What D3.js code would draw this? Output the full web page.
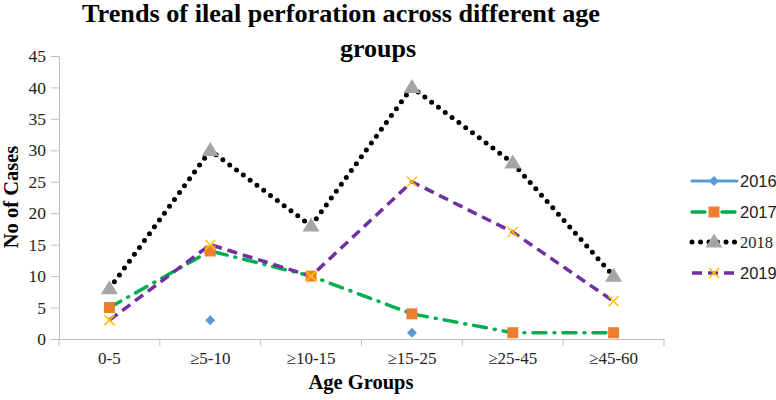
<!DOCTYPE html>
<html><head><meta charset="utf-8">
<script src="https://cdn.jsdelivr.net/npm/d3@7"></script>
<style>body{margin:0;background:#fff}svg{display:block}</style>
</head><body>
<svg id="c" width="776" height="400"></svg>
<script>
const categories = ["0-5","\u22655-10","\u226510-15","\u226515-25","\u226525-45","\u226545-60"];
const s2016 = [null, 3, null, 1, null, null];
const s2017 = [5, 14, 10, 4, 1, 1];
const s2018 = [8, 30, 18, 40, 28, 10];
const s2019 = [3, 15, 10, 25, 17, 6];
const yTicks = [0,5,10,15,20,25,30,35,40,45];
const seriesNames = ["2016","2017","2018","2019"];

const SERIF = "'Liberation Serif','Times New Roman',serif";
const SANS = "'Liberation Sans',Arial,sans-serif";

const svg = d3.select("#c");
const x = d3.scaleBand().domain(categories).range([59, 664]);
const y = d3.scaleLinear().domain([0,45]).range([339, 56]);
const cx = d => x(d) + x.bandwidth()/2;

// axes
const ya = svg.append("g").attr("transform","translate(59,0)")
  .call(d3.axisLeft(y).tickValues(yTicks).tickSize(8).tickSizeOuter(0));
ya.attr("font-family",SERIF);
ya.select(".domain").attr("stroke","#BFBFBF");
ya.selectAll(".tick line").attr("stroke","#BFBFBF");
ya.selectAll(".tick text").style("font-family",SERIF).style("font-size","17.5px").attr("fill","#222").attr("x",-13);

const xa = svg.append("g").attr("transform","translate(0,339)")
  .call(d3.axisBottom(x).tickSize(0).tickSizeOuter(0));
xa.attr("font-family",SERIF);
xa.select(".domain").attr("stroke","#BFBFBF");
xa.selectAll(".tick text").style("font-family",SERIF).style("font-size","17px").attr("fill","#222").attr("y",25).attr("dy",0);
const bounds = categories.map(c => x(c)).concat([x.range()[1]]);
svg.append("g").selectAll("line").data(bounds).join("line")
  .attr("x1",d=>d).attr("x2",d=>d).attr("y1",339).attr("y2",346).attr("stroke","#BFBFBF");

// titles
svg.append("text").attr("x",82).attr("y",22).attr("text-anchor","start")
  .attr("textLength",518).attr("lengthAdjust","spacingAndGlyphs")
  .style("font-family",SERIF).attr("font-weight","bold").style("font-size","26px")
  .text("Trends of ileal perforation across different age");
svg.append("text").attr("x",340).attr("y",57).attr("text-anchor","start")
  .style("font-family",SERIF).attr("font-weight","bold").style("font-size","26px")
  .text("groups");
svg.append("text").attr("transform","translate(18,197) rotate(-90)").attr("text-anchor","middle")
  .style("font-family",SERIF).attr("font-weight","bold").style("font-size","20.5px")
  .text("No of Cases");
svg.append("text").attr("x",361).attr("y",389).attr("text-anchor","middle")
  .style("font-family",SERIF).attr("font-weight","bold").style("font-size","20.5px")
  .text("Age Groups");

const line = d3.line().defined(d=>d.v!=null).x(d=>cx(d.c)).y(d=>y(d.v));
const toPts = arr => arr.map((v,i)=>({c:categories[i], v}));

const styles = {
  "2016": {color:"#5B9BD5", width:3, dash:null, cap:"round"},
  "2017": {color:"#00B050", width:3.5, dash:"13,8,1,8", cap:"round"},
  "2018": {color:"#000000", width:5, dash:"0,8.5", cap:"round"},
  "2019": {color:"#7030A0", width:3.5, dash:"10,6", cap:"butt"}
};
const data = {"2016":s2016,"2017":s2017,"2018":s2018,"2019":s2019};

function marker(g, name, px, py){
  if(name==="2016"){
    g.append("path").attr("d","M0,-5L5,0L0,5L-5,0Z").attr("transform",`translate(${px},${py})`).attr("fill","#5B9BD5");
  } else if(name==="2017"){
    const s=11;
    g.append("rect").attr("x",px-s/2).attr("y",py-s/2).attr("width",s).attr("height",s).attr("fill","#ED7D31");
  } else if(name==="2018"){
    const w=17, h=14;
    g.append("path").attr("d",`M${px},${py-h*0.6}L${px+w/2},${py+h*0.4}L${px-w/2},${py+h*0.4}Z`).attr("fill","#A5A5A5");
  } else {
    const s=5;
    g.append("path").attr("d",`M${px-s},${py-s}L${px+s},${py+s}M${px-s},${py+s}L${px+s},${py-s}`).attr("stroke","#FFC000").attr("stroke-width",1.5);
  }
}

const plot = svg.append("g");
seriesNames.forEach(n=>{
  const st=styles[n];
  plot.append("path").datum(toPts(data[n])).attr("d",line).attr("fill","none")
    .attr("stroke",st.color).attr("stroke-width",st.width)
    .attr("stroke-dasharray",st.dash).attr("stroke-linecap",st.cap);
});
seriesNames.forEach(n=>{
  toPts(data[n]).filter(d=>d.v!=null).forEach(d=>marker(plot,n,cx(d.c),y(d.v)));
});

// legend
const leg = svg.append("g");
const legY = [181,212,242,273];
seriesNames.forEach((n,i)=>{
  const st=styles[n];
  const ly=legY[i];
  leg.append("line").attr("x1",692).attr("x2",737).attr("y1",ly).attr("y2",ly)
    .attr("stroke",st.color).attr("stroke-width",st.width)
    .attr("stroke-dasharray",st.dash).attr("stroke-linecap",st.cap);
  marker(leg,n,714,ly);
  leg.append("text").attr("x",740).attr("y",ly+6)
    .style("font-family", n==="2018" ? SERIF : SANS)
    .style("font-size","16.5px").attr("fill","#222").text(n);
});
</script>
</body></html>
